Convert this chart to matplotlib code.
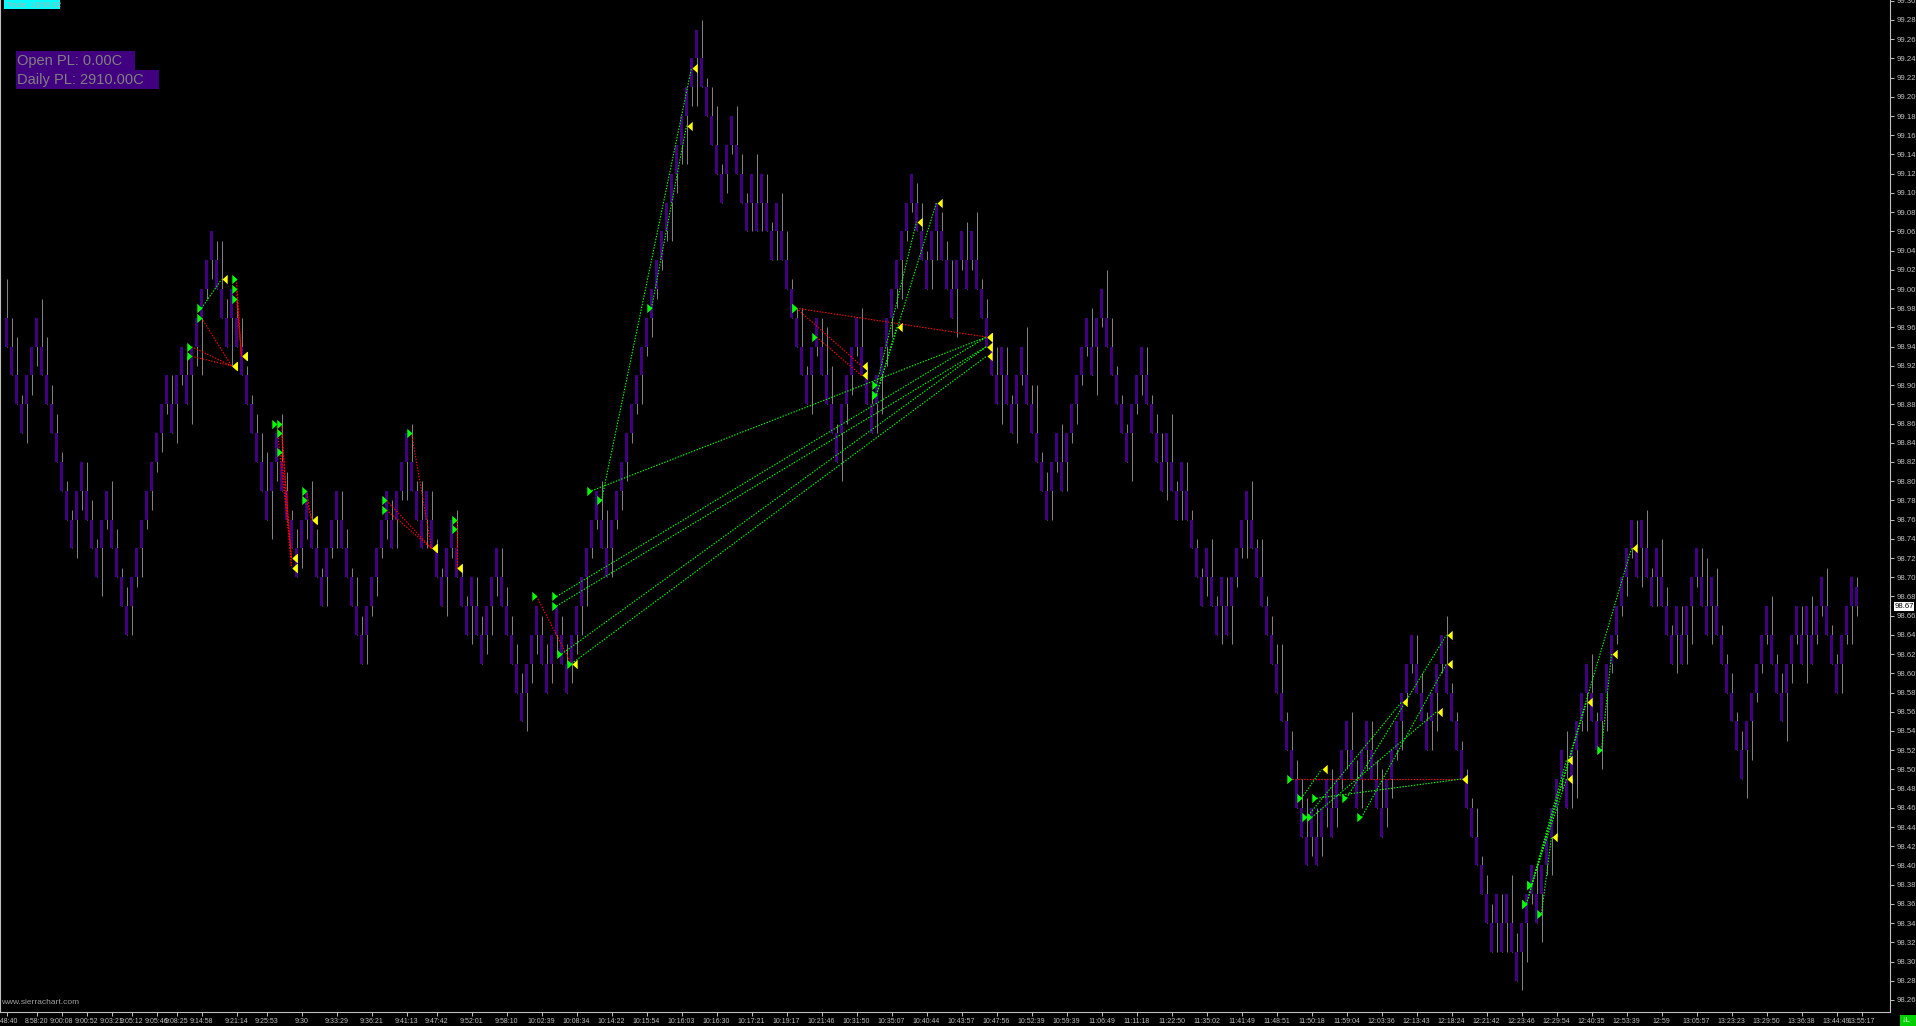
import numpy as np
import matplotlib
matplotlib.use("Agg")
import matplotlib.pyplot as plt
from matplotlib.patches import Rectangle

plt.rcParams['font.family'] = ['Liberation Sans', 'DejaVu Sans']

# renko box index of every bar (box k spans 98.25+0.03k .. 98.28+0.03k)
levels = [
    23, 22, 21, 20, 21, 22, 23, 22, 21, 20, 19, 18, 17, 16, 17, 18, 17, 16, 15, 16,
    17, 16, 15, 14, 13, 14, 15, 16, 17, 18, 19, 20, 21, 20, 21, 22, 21, 22, 23, 24,
    25, 26, 25, 24, 23, 24, 23, 22, 21, 20, 19, 18, 17, 18, 19, 18, 17, 16, 15, 16,
    17, 16, 15, 14, 15, 16, 17, 16, 15, 14, 13, 12, 13, 14, 15, 16, 17, 16, 17, 18,
    19, 18, 17, 16, 17, 16, 15, 14, 15, 16, 15, 14, 13, 14, 13,
    12, 13, 14, 15, 14, 13, 12, 11, 10, 11, 12, 13, 12, 11, 12, 13, 12, 11, 12, 13,
    14, 15, 16, 17, 16, 15, 16, 17, 18, 19, 20, 21, 22, 23, 24, 25, 26, 27, 28, 29,
    30, 31, 32, 33, 32, 31, 30, 29, 28, 29, 30, 29, 28, 27, 28, 27, 28, 27, 26, 27,
    26, 25, 24, 23, 22, 21, 22, 23, 22, 21, 20, 19, 20, 21, 22, 23, 22, 21, 20, 21,
    22, 23, 24, 25, 26, 27, 28, 27, 26, 25, 26, 27, 26, 25,
    24, 25, 26, 25, 26, 25, 24, 23, 22, 21, 22, 21, 20, 21, 22, 21, 20, 19, 18, 17,
    18, 19, 18, 19, 20, 21, 22, 23, 22, 23, 24, 23, 22, 21, 20, 19, 20, 21, 22, 21,
    20, 19, 18, 19, 18, 17, 18, 17, 16, 15, 14, 15, 14, 13, 14, 13, 14, 15, 16, 17,
    16, 15, 14, 13, 12, 11, 10, 9,
    8, 7, 6, 5, 6, 5, 6, 7, 6, 7, 8, 9, 8, 7, 8, 9, 8, 7, 6, 7, 8, 9,
    10, 11, 12, 11, 10, 9, 10, 11, 12, 11, 10, 9, 8, 7, 6, 5, 4, 3, 2, 3,
    2, 3, 2, 1, 2, 3, 4, 3, 4, 5, 6, 7, 8, 7, 8, 9, 10, 11, 10, 9,
    10, 11, 12, 13, 14, 15, 16, 15, 16, 15, 14, 15, 14, 13, 12, 13, 12, 13, 14, 15,
    14, 13, 14, 13, 12, 11, 10, 9, 8, 9, 10, 11, 12, 13, 12, 11, 10, 11, 12, 13,
    12, 13, 12, 13, 14, 13, 12, 11, 12, 13, 14,
]
# wick beyond the open of each bar, in 0.01 ticks
wicks = [
    4, 3, 4, 1, 4, 2, 2, 5, 4, 2, 2, 1, 1, 1, 4, 2, 3, 2, 1, 5,
    1, 4, 2, 1, 2, 3, 1, 3, 1, 2, 1, 2, 1, 3, 4, 1, 2, 5, 2, 6,
    1, 2, 2, 5, 2, 5, 2, 3, 1, 1, 2, 3, 4, 5, 2, 5, 2, 1, 2, 2,
    2, 4, 2, 1, 3, 1, 3, 3, 2, 1, 3, 2, 3, 1, 2, 1, 2, 2, 3, 1,
    4, 4, 1, 4, 3, 3, 1, 1, 4, 1, 4, 1, 1, 4, 3,
    2, 2, 3, 2, 3, 2, 2, 2, 2, 4, 2, 2, 2, 2, 2, 2, 2, 2, 2, 2,
    3, 3, 1, 1, 4, 4, 3, 1, 2, 2, 1, 1, 3, 1, 2, 1, 1, 1, 4, 2,
    2, 5, 2, 5, 4, 1, 3, 4, 1, 2, 1, 4, 2, 1, 3, 5, 3, 3, 1, 3,
    4, 3, 1, 1, 4, 1, 4, 1, 3, 5, 4, 1, 5, 2, 2, 1, 4, 1, 1, 3,
    4, 2, 2, 2, 4, 1, 1, 2, 3, 1, 3, 3, 2, 2,
    3, 5, 1, 4, 1, 5, 1, 2, 1, 3, 5, 3, 1, 4, 1, 5, 2, 5, 1, 2,
    3, 1, 4, 3, 1, 2, 1, 1, 4, 5, 1, 5, 3, 1, 1, 1, 5, 1, 2, 3,
    1, 2, 3, 4, 5, 1, 3, 3, 1, 1, 1, 2, 4, 1, 4, 3, 4, 1, 1, 4,
    4, 1, 4, 1, 2, 2, 5, 1,
    2, 2, 3, 4, 2, 3, 2, 2, 4, 2, 1, 2, 4, 2, 3, 2, 3, 2, 4, 2, 2, 1,
    3, 1, 1, 3, 2, 1, 3, 4, 1, 5, 1, 1, 1, 1, 1, 3, 1, 2, 2, 3,
    3, 3, 5, 2, 4, 4, 1, 3, 5, 1, 4, 3, 1, 5, 3, 5, 1, 4, 4, 1,
    5, 4, 1, 1, 1, 2, 1, 3, 4, 4, 1, 3, 4, 2, 1, 4, 3, 3, 4, 1,
    3, 5, 4, 4, 1, 1, 2, 1, 2, 5, 4, 1, 1, 1, 4, 1, 2, 5, 2, 1,
    3, 5, 4, 1, 1, 4, 1, 1, 3, 1, 4,
]
# forming bar: open, close, high, low
last_bar = [98.67, 98.69, 98.70, 98.66]

entry_bar = [37, 37, 39, 39, 46, 46, 46, 54, 55, 55, 55, 60, 60, 76, 76, 81, 90, 90,
             106, 110, 110, 111, 113, 117, 119, 129, 158, 158, 162, 174, 174, 174,
             257, 259, 260, 261, 262, 268, 271, 304, 304, 305, 305, 307, 319]
entry_px = [98.94, 98.93, 98.98, 98.97, 99.01, 99.00, 98.99, 98.86, 98.86, 98.85, 98.83,
            98.79, 98.78, 98.78, 98.77, 98.85, 98.76, 98.75,
            98.68, 98.68, 98.67, 98.62, 98.61, 98.79, 98.78, 98.98, 98.98, 98.98, 98.95,
            98.90, 98.89, 98.89,
            98.49, 98.47, 98.45, 98.45, 98.47, 98.47, 98.45, 98.36, 98.36, 98.38, 98.38,
            98.35, 98.52]
exit_bar = [45, 45, 43, 45, 47, 47, 47, 57, 57, 57, 57, 61, 61, 85, 85, 85, 90, 90,
            113, 196, 196, 196, 196, 196, 137, 136, 196, 171, 171, 182, 178, 186,
            291, 263, 279, 286, 291, 288, 288, 316, 312, 325, 312, 309, 321]
exit_px = [98.92, 98.92, 99.01, 98.92, 98.93, 98.93, 98.93, 98.72, 98.71, 98.72, 98.71,
           98.76, 98.76, 98.73, 98.73, 98.73, 98.71, 98.71,
           98.61, 98.95, 98.94, 98.94, 98.93, 98.95, 99.23, 99.17, 98.95, 98.92, 98.91,
           99.07, 98.96, 99.09,
           98.49, 98.50, 98.57, 98.56, 98.49, 98.64, 98.61, 98.57, 98.51, 98.73, 98.49,
           98.43, 98.62]

time_labels = ["8:48:40", "8:58:20", "9:00:08", "9:00:52", "9:03:21", "9:05:12", "9:05:46",
               "9:08:25", "9:14:58", "9:21:14", "9:25:53", "9:30", "9:33:29", "9:36:21",
               "9:41:13", "9:47:42", "9:52:01", "9:58:10", "10:02:39", "10:08:34",
               "10:14:22", "10:15:54", "10:16:03", "10:16:30", "10:17:21", "10:19:17",
               "10:21:46", "10:31:50", "10:35:07", "10:40:44", "10:43:57", "10:47:56",
               "10:52:39", "10:59:39", "11:06:49", "11:11:18", "11:22:50", "11:35:02",
               "11:41:49", "11:48:51", "11:50:18", "11:59:04", "12:03:36", "12:13:43",
               "12:18:24", "12:21:42", "12:23:46", "12:29:54", "12:40:35", "12:53:39",
               "12:59", "13:05:57", "13:23:23", "13:29:50", "13:36:38", "13:44:49",
               "13:55:17"]
time_bars = [0, 6, 11, 16, 21, 25, 30, 34,
             39, 46, 52, 59, 66, 73, 80, 86, 93, 100, 107, 114, 121, 128, 135,
             142, 149, 156, 163, 170, 177, 184, 191, 198, 205, 212, 219, 226, 233,
             240, 247, 254, 261, 268, 275, 282, 289, 296, 303, 310, 317, 324, 331,
             338, 345, 352, 359, 366, 371]

price_ticks = [round(98.26 + 0.02 * i, 2) for i in range(53)]
last_price = 98.67

W, H = 1916, 1026
base = 98.25
box = 0.03
grey = '#c0c0c0'
small = ['Liberation Sans Narrow', 'Liberation Sans', 'DejaVu Sans']

fig = plt.figure(figsize=(W / 100, H / 100), dpi=100, facecolor='black')
ax = fig.add_axes([0, 14 / H, 1890 / W, 1012 / H])
ax.set_facecolor('black')

n = len(levels)
xs = np.arange(n)
lo = np.array([base + box * k for k in levels])
hi = lo + box
wlo = lo.copy()
whi = hi.copy()
for i in range(n):
    if i > 0 and levels[i] > levels[i - 1]:
        wlo[i] = lo[i] - wicks[i] * 0.01
    else:
        whi[i] = hi[i] + wicks[i] * 0.01

ax.vlines(xs, wlo, whi, color='#808080', lw=0.75, zorder=1)
ax.bar(xs, hi - lo, bottom=lo, width=0.6, color='#400080', lw=0, zorder=2)
ax.vlines([n], [last_bar[3]], [last_bar[2]], color='#808080', lw=0.75, zorder=1)
ax.bar([n], [last_bar[1] - last_bar[0]], bottom=[last_bar[0]], width=0.6,
       color='#400080', lw=0, zorder=2)

for eb, ep, xb, xp in zip(entry_bar, entry_px, exit_bar, exit_px):
    col = '#00ff00' if xp > ep else '#ff0000'
    ax.plot([eb, xb], [ep, xp], color=col, lw=0.8, ls=(0, (1.3, 1.3)), zorder=3)

buy_tri = [(-1, -0.9), (0, 0), (-1, 0.9), (-1, -0.9)]
sell_tri = [(1, -0.9), (0, 0), (1, 0.9), (1, -0.9)]
ax.plot(entry_bar, entry_px, ls='none', marker=buy_tri, ms=7.5, mew=0,
        color='#00ff00', zorder=4)
ax.plot(exit_bar, exit_px, ls='none', marker=sell_tri, ms=7.5, mew=0,
        color='#ffff00', zorder=4)

ax.set_xlim(-1.3, 376.7)
ax.set_ylim(98.2475, 99.3008)
ax.spines['top'].set_visible(False)
for s in ['left', 'right', 'bottom']:
    ax.spines[s].set_color(grey)
    ax.spines[s].set_linewidth(0.8)

ax.yaxis.tick_right()
ax.set_yticks(price_ticks)
ax.set_yticklabels(['%.2f' % p for p in price_ticks], family=small)
ax.tick_params(axis='y', colors=grey, length=3, width=0.7, labelsize=5.6, pad=1.5)
ax.set_xticks(time_bars)
ax.set_xticklabels(time_labels, family=small)
ax.tick_params(axis='x', colors=grey, length=3, width=0.7, labelsize=5.0, pad=1.5)


def fx(x):
    return x / W


def fy(y):
    return 1 - y / H


def box_at(x0, y0, x1, y1, col):
    fig.add_artist(Rectangle((fx(x0), fy(y1)), fx(x1 - x0), (y1 - y0) / H,
                             transform=fig.transFigure, color=col, lw=0, zorder=5))


box_at(4, 0, 60, 9, '#00ffff')
fig.text(fx(6), fy(4.5), 'Trade: 1@98.82', color='#b0b0b0', fontsize=5.5,
         va='center', zorder=6)
box_at(16, 51, 135, 70, '#400080')
box_at(16, 70, 159, 89, '#400080')
fig.text(fx(17), fy(61), 'Open PL: 0.00C', color='#808080', fontsize=10.5,
         va='center', zorder=6)
fig.text(fx(17), fy(80), 'Daily PL: 2910.00C', color='#808080', fontsize=10.5,
         va='center', zorder=6)
fig.text(fx(1), fy(1003), 'www.sierrachart.com', color='#a0a0a0', fontsize=6,
         va='center', zorder=6)

ly = 20 + (99.28 - last_price) * 960.8
box_at(1894, ly - 4.5, 1914, ly + 4.5, 'white')
fig.text(fx(1895), fy(ly), '%.2f' % last_price, color='black', fontsize=5.6,
         family=small, va='center', zorder=6)
box_at(1900, 1015, 1916, 1026, '#00d000')
fig.text(fx(1902), fy(1020.5), '↓L', color='white', fontsize=6, va='center', zorder=6)

fig.savefig('out.png', dpi=100, facecolor='black')
